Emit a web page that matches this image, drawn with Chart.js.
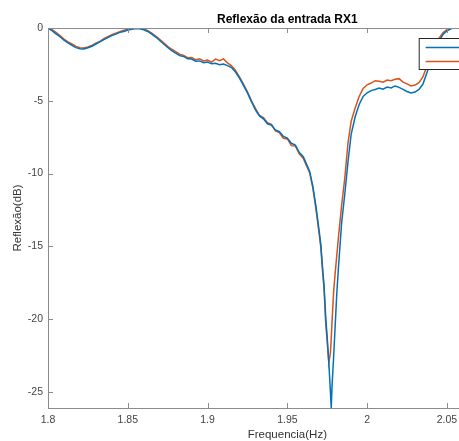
<!DOCTYPE html>
<html>
<head>
<meta charset="utf-8">
<script src="https://cdn.jsdelivr.net/npm/chart.js@4/dist/chart.umd.min.js"></script>
<style>
  html, body { margin: 0; padding: 0; background: #fff; overflow: hidden; }
  #wrap { width: 459px; height: 441px; overflow: hidden; }
  canvas { display: block; }
</style>
</head>
<body>
<div id="wrap"><canvas id="rx1Chart" width="540" height="441"></canvas></div>
<script>
const freqGHz = [
  1.8000, 1.8025, 1.8050, 1.8075, 1.8100, 1.8125, 1.8150, 1.8175, 1.8200, 1.8225,
  1.8250, 1.8275, 1.8300, 1.8325, 1.8350, 1.8375, 1.8400, 1.8425, 1.8450, 1.8475,
  1.8500, 1.8525, 1.8550, 1.8575, 1.8600, 1.8625, 1.8650, 1.8675, 1.8700, 1.8725,
  1.8750, 1.8775, 1.8800, 1.8825, 1.8850, 1.8875, 1.8900, 1.8925, 1.8950, 1.8975,
  1.9000, 1.9025, 1.9050, 1.9075, 1.9100, 1.9125, 1.9150, 1.9175, 1.9200, 1.9225,
  1.9250, 1.9275, 1.9300, 1.9325, 1.9350, 1.9375, 1.9400, 1.9425, 1.9450, 1.9475,
  1.9500, 1.9525, 1.9550, 1.9575, 1.9600,
  1.962, 1.964, 1.966, 1.968, 1.970, 1.971, 1.972, 1.973, 1.974, 1.975,
  1.976, 1.977, 1.9775, 1.978, 1.979, 1.980, 1.981, 1.982, 1.984, 1.986,
  1.988, 1.990,
  1.9925, 1.9950, 1.9975, 2.0000, 2.0025, 2.0050, 2.0075, 2.0100, 2.0125, 2.0150,
  2.0175, 2.0200, 2.0225, 2.0250, 2.0275, 2.0300, 2.0325, 2.0350, 2.0375, 2.0400,
  2.0425, 2.0450, 2.0475, 2.0500, 2.0525, 2.0550, 2.0575, 2.0600
];

// blue trace
const rx1A = [
  0.00, -0.18, -0.40, -0.60, -0.84, -1.03, -1.20, -1.35, -1.42, -1.44,
  -1.36, -1.25, -1.10, -0.95, -0.80, -0.66, -0.52, -0.42, -0.30, -0.24,
  -0.14, -0.08, -0.04, -0.05, -0.12, -0.24, -0.42, -0.62, -0.86, -1.10,
  -1.34, -1.55, -1.72, -1.90, -1.95, -2.12, -2.13, -2.28, -2.26, -2.38,
  -2.34, -2.46, -2.42, -2.52, -2.47, -2.58, -2.72, -3.02, -3.44, -3.94,
  -4.46, -5.06, -5.62, -6.04, -6.24, -6.58, -6.66, -7.00, -7.12, -7.44,
  -7.56, -7.92, -8.04, -8.56, -8.84,
  -9.35, -9.85, -10.9, -12.3, -14.0, -14.9, -16.4, -17.7, -19.8, -21.3,
  -23.0, -25.0, -26.1, -24.6, -22.6, -20.4, -18.2, -16.5, -13.4, -11.4,
  -9.2, -7.3,
  -6.1, -5.25, -4.70, -4.45, -4.30, -4.22, -4.12, -4.20, -4.06, -4.12,
  -3.98, -4.08, -4.22, -4.36, -4.46, -4.40, -4.22, -3.85, -3.05, -2.25,
  -1.55, -0.90, -0.45, -0.20, -0.05, 0.05, -0.02, -0.10
];

// orange trace
const rx1B = [
  0.00, -0.12, -0.30, -0.52, -0.76, -0.95, -1.10, -1.26, -1.36, -1.38,
  -1.30, -1.20, -1.04, -0.92, -0.74, -0.60, -0.46, -0.36, -0.26, -0.16,
  -0.10, -0.04, -0.01, -0.02, -0.07, -0.18, -0.36, -0.56, -0.78, -1.02,
  -1.26, -1.46, -1.62, -1.80, -1.88, -2.04, -2.02, -2.18, -2.12, -2.26,
  -2.20, -2.34, -2.14, -2.24, -2.12, -2.40, -2.60, -2.92, -3.36, -3.86,
  -4.38, -5.00, -5.52, -6.00, -6.16, -6.50, -6.62, -7.06, -7.18, -7.58,
  -7.62, -8.08, -8.10, -8.64, -8.96,
  -9.45, -9.95, -11.0, -12.5, -14.2, -15.1, -16.6, -17.9, -20.2, -21.6,
  -23.0, -22.3, -21.3, -20.2, -18.1, -16.8, -15.6, -14.4, -12.2, -10.3,
  -7.9, -6.4,
  -5.50, -4.70, -4.15, -3.90, -3.78, -3.62, -3.66, -3.72, -3.58, -3.62,
  -3.52, -3.48, -3.72, -3.84, -3.98, -3.92, -3.76, -3.35, -2.60, -1.90,
  -1.30, -0.72, -0.32, -0.12, -0.02, 0.08, 0.02, -0.05
];

const seriesNames = ["RX1 (1)", "RX1 (2)"];
const xTickStep = 0.05;
const yTickStep = 5;

const FONT = '"Liberation Sans", Arial, Helvetica, sans-serif';
const AXIS_GRAY = "#8c8c8c";

const toPoints = vals => freqGHz.map((f, i) => ({ x: f, y: vals[i] }));

// MATLAB-style box: inner ticks, top edge, legend box
const matlabAxes = {
  id: "matlabAxes",
  afterDatasetsDraw(chart) {
    const { ctx, chartArea: a, scales: { x, y } } = chart;
    ctx.save();
    ctx.strokeStyle = AXIS_GRAY;
    ctx.lineWidth = 1;
    ctx.beginPath();
    ctx.moveTo(a.left, a.top + 0.5);
    ctx.lineTo(a.right, a.top + 0.5);
    ctx.moveTo(a.right - 0.5, a.top);
    ctx.lineTo(a.right - 0.5, a.bottom);
    x.ticks.forEach(t => {
      const px = Math.round(x.getPixelForValue(t.value)) + 0.5;
      ctx.moveTo(px, a.bottom); ctx.lineTo(px, a.bottom - 5);
      ctx.moveTo(px, a.top); ctx.lineTo(px, a.top + 5);
    });
    y.ticks.forEach(t => {
      const py = Math.round(y.getPixelForValue(t.value)) + 0.5;
      ctx.moveTo(a.left, py); ctx.lineTo(a.left + 5, py);
      ctx.moveTo(a.right, py); ctx.lineTo(a.right - 5, py);
    });
    ctx.stroke();

    // legend
    const lx = a.right - 108, ly = a.top + 10;
    ctx.fillStyle = "#fff";
    ctx.fillRect(lx, ly, 102, 32);
    ctx.strokeStyle = "#262626";
    ctx.strokeRect(lx + 0.5, ly + 0.5, 101, 31);
    chart.data.datasets.forEach((ds, i) => {
      const yy = ly + 9.5 + i * 14;
      ctx.strokeStyle = ds.borderColor;
      ctx.lineWidth = 1.5;
      ctx.beginPath();
      ctx.moveTo(lx + 7, yy);
      ctx.lineTo(lx + 45, yy);
      ctx.stroke();
      ctx.fillStyle = "#000";
      ctx.font = "10px " + FONT;
      ctx.textBaseline = "middle";
      ctx.fillText(ds.label, lx + 49, yy);
    });
    ctx.restore();
  }
};

new Chart(document.getElementById("rx1Chart"), {
  type: "line",
  data: {
    datasets: [
      { label: seriesNames[0], data: toPoints(rx1A), borderColor: "#0072BD", borderWidth: 1.5, pointRadius: 0, tension: 0 },
      { label: seriesNames[1], data: toPoints(rx1B), borderColor: "#D95319", borderWidth: 1.5, pointRadius: 0, tension: 0 }
    ]
  },
  options: {
    responsive: false,
    animation: false,
    devicePixelRatio: 1,
    layout: { padding: { left: 0, right: 12, top: 0, bottom: 0 } },
    plugins: {
      legend: { display: false },
      tooltip: { enabled: false },
      title: {
        display: true,
        text: "Reflexão da entrada RX1",
        fullSize: false,
        color: "#000",
        font: { family: FONT, size: 12, weight: "bold", lineHeight: 1 },
        padding: { top: 14, bottom: 2 }
      }
    },
    scales: {
      x: {
        type: "linear",
        min: 1.8,
        max: 2.1,
        afterFit: s => { s.height = 33; },
        grid: { drawOnChartArea: false, drawTicks: false },
        border: { display: true, color: AXIS_GRAY, width: 1 },
        ticks: {
          stepSize: xTickStep,
          autoSkip: false,
          maxRotation: 0,
          padding: 6,
          color: "#444",
          font: { family: FONT, size: 10.5 },
          callback: v => String(Number(v.toFixed(2)))
        },
        title: {
          display: true,
          text: "Frequencia(Hz)",
          color: "#333",
          font: { family: FONT, size: 11.5, lineHeight: 1 },
          padding: { top: 0, bottom: 0 }
        }
      },
      y: {
        min: -26.1,
        max: 0,
        afterFit: s => { s.width = 48; },
        grid: { drawOnChartArea: false, drawTicks: false },
        border: { display: true, color: AXIS_GRAY, width: 1 },
        ticks: {
          stepSize: yTickStep,
          includeBounds: false,
          padding: 5,
          color: "#444",
          font: { family: FONT, size: 10.5 },
          callback: v => String(Number(v.toFixed(1)))
        },
        title: {
          display: true,
          text: "Reflexão(dB)",
          color: "#333",
          font: { family: FONT, size: 11.5, lineHeight: 1 },
          padding: { top: 12, bottom: 0 }
        }
      }
    }
  },
  plugins: [matlabAxes]
});
</script>
</body>
</html>
